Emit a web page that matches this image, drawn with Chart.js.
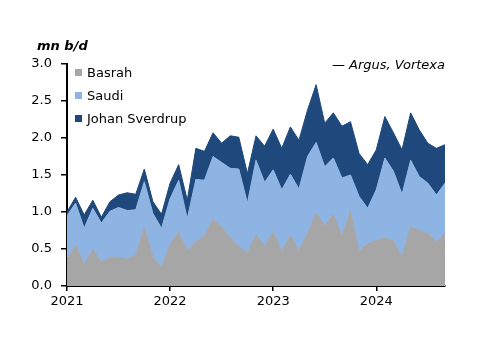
<!DOCTYPE html>
<html>
<head>
<meta charset="utf-8">
<script src="https://cdn.jsdelivr.net/npm/chart.js@4"></script>
<style>
  body { margin: 0; background: #fff; }
  .wrap { position: relative; width: 500px; height: 353px; font-family: "DejaVu Sans", sans-serif; color: #000; }
  .unit { position: absolute; left: 37px; top: 38px; font-size: 13px; font-weight: bold; font-style: italic; }
  .source { position: absolute; right: 55px; top: 57px; font-size: 13px; font-style: italic; }
  .legend { position: absolute; left: 75px; top: 64px; font-size: 13px; }
  .legend div { height: 23px; line-height: 17px; white-space: nowrap; }
  .legend span { display: inline-block; width: 7px; height: 7px; margin-right: 5px; vertical-align: 1px; }
</style>
</head>
<body>
<div class="wrap">
  <canvas id="chart" width="500" height="353"></canvas>
  <div class="unit">mn b/d</div>
  <div class="source">— Argus, Vortexa</div>
  <div class="legend" id="legend"></div>
</div>
<script>
  // monthly, Jan 2021 - Sep 2024
  const yearLabels = ["2021", "2022", "2023", "2024"];
  const seriesNames = ["Basrah", "Saudi", "Johan Sverdrup"];
  const seriesColors = ["#a6a6a6", "#8db4e2", "#1f497d"];

  const basrah = [
    0.35, 0.55, 0.29, 0.50, 0.32, 0.39, 0.39, 0.36, 0.42, 0.79, 0.39, 0.26,
    0.56, 0.73, 0.48, 0.60, 0.68, 0.90, 0.79, 0.66, 0.53, 0.45, 0.69, 0.54,
    0.73, 0.47, 0.68, 0.48, 0.71, 0.99, 0.81, 0.97, 0.67, 1.01, 0.47, 0.57,
    0.62, 0.65, 0.61, 0.39, 0.80, 0.75, 0.71, 0.59, 0.72
  ];
  const saudi = [
    0.60, 0.57, 0.49, 0.55, 0.53, 0.62, 0.67, 0.66, 0.61, 0.62, 0.59, 0.52,
    0.62, 0.70, 0.43, 0.84, 0.75, 0.85, 0.88, 0.93, 1.05, 0.67, 1.01, 0.86,
    0.84, 0.83, 0.83, 0.83, 1.04, 0.95, 0.80, 0.76, 0.79, 0.49, 0.74, 0.48,
    0.68, 1.08, 0.94, 0.85, 0.90, 0.73, 0.68, 0.64, 0.67
  ];
  const johanSverdrup = [
    0.05, 0.08, 0.18, 0.11, 0.08, 0.13, 0.17, 0.24, 0.21, 0.17, 0.16, 0.19,
    0.21, 0.21, 0.25, 0.42, 0.39, 0.32, 0.26, 0.44, 0.43, 0.40, 0.33, 0.49,
    0.55, 0.56, 0.64, 0.66, 0.63, 0.78, 0.59, 0.61, 0.70, 0.72, 0.58, 0.59,
    0.54, 0.56, 0.52, 0.60, 0.64, 0.63, 0.54, 0.63, 0.52
  ];

  const months = basrah.map((_, i) => i);
  const seriesData = [basrah, saudi, johanSverdrup];

  // legend
  const legendEl = document.getElementById("legend");
  seriesNames.forEach((name, i) => {
    const row = document.createElement("div");
    row.innerHTML = '<span style="background:' + seriesColors[i] + '"></span>' + name;
    legendEl.appendChild(row);
  });

  const datasets = seriesData.map((data, i) => ({
    label: seriesNames[i],
    data: data,
    backgroundColor: seriesColors[i],
    borderColor: seriesColors[i],
    borderWidth: 1,
    pointRadius: 0,
    tension: 0,
    fill: i === 0 ? "origin" : "-1",
  }));

  const tickFont = { family: "DejaVu Sans", size: 13 };

  new Chart(document.getElementById("chart"), {
    type: "line",
    data: { labels: months, datasets: datasets },
    options: {
      responsive: false,
      animation: false,
      devicePixelRatio: 1,
      layout: { padding: { left: 0, right: 55, top: 64, bottom: 0 } },
      plugins: { legend: { display: false }, tooltip: { enabled: false } },
      scales: {
        x: {
          type: "category",
          offset: false,
          afterFit: (scale) => { scale.height = 67; },
          grid: {
            drawOnChartArea: false,
            tickLength: 5,
            lineWidth: 1.5,
            color: (ctx) => (ctx.index % 12 === 0 ? "#000" : "rgba(0,0,0,0)"),
          },
          border: { color: "#000", width: 2 },
          ticks: {
            autoSkip: false,
            maxRotation: 0,
            padding: 3,
            color: "#000",
            font: tickFont,
            callback: (v, i) => (i % 12 === 0 ? yearLabels[i / 12] : ""),
          },
        },
        y: {
          stacked: true,
          min: 0,
          max: 3,
          afterFit: (scale) => { scale.width = 67; },
          grid: { drawOnChartArea: false, tickLength: 6, lineWidth: 1.5, color: "#000" },
          border: { color: "#000", width: 2 },
          ticks: {
            stepSize: 0.5,
            padding: 9,
            color: "#000",
            font: tickFont,
            callback: (v) => v.toFixed(1),
          },
        },
      },
    },
  });
</script>
</body>
</html>
